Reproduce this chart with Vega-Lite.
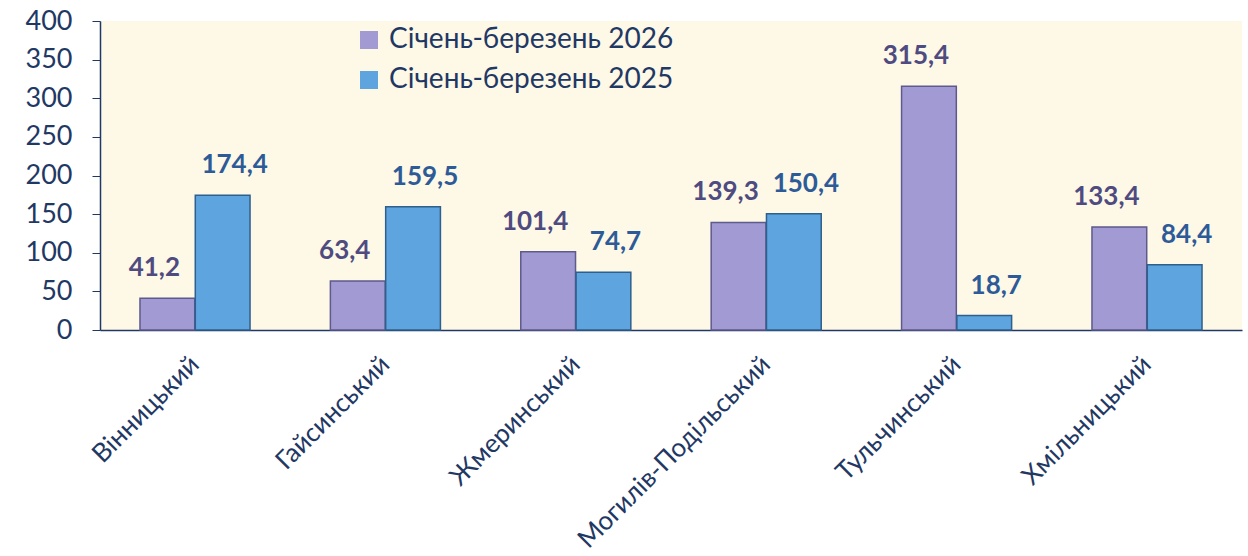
{
  "$schema": "https://vega.github.io/schema/vega-lite/v6.json",
  "autosize": {"type": "none"},
  "width": 1142,
  "height": 309,
  "padding": {"left": 100, "top": 21, "right": 6, "bottom": 226},
  "background": "#ffffff",
  "config": {
    "view": {"fill": "#fef8e7", "stroke": null},
    "font": "Lato"
  },
  "data": {
    "values": [
      {"district": "Вінницький", "series": "Січень-березень 2026", "value": 41.2, "label": "41,2"},
      {"district": "Вінницький", "series": "Січень-березень 2025", "value": 174.4, "label": "174,4"},
      {"district": "Гайсинський", "series": "Січень-березень 2026", "value": 63.4, "label": "63,4"},
      {"district": "Гайсинський", "series": "Січень-березень 2025", "value": 159.5, "label": "159,5"},
      {"district": "Жмеринський", "series": "Січень-березень 2026", "value": 101.4, "label": "101,4"},
      {"district": "Жмеринський", "series": "Січень-березень 2025", "value": 74.7, "label": "74,7"},
      {"district": "Могилів-Подільський", "series": "Січень-березень 2026", "value": 139.3, "label": "139,3"},
      {"district": "Могилів-Подільський", "series": "Січень-березень 2025", "value": 150.4, "label": "150,4"},
      {"district": "Тульчинський", "series": "Січень-березень 2026", "value": 315.4, "label": "315,4"},
      {"district": "Тульчинський", "series": "Січень-березень 2025", "value": 18.7, "label": "18,7"},
      {"district": "Хмільницький", "series": "Січень-березень 2026", "value": 133.4, "label": "133,4"},
      {"district": "Хмільницький", "series": "Січень-березень 2025", "value": 84.4, "label": "84,4"}
    ]
  },
  "encoding": {
    "x": {
      "field": "district",
      "type": "nominal",
      "sort": null,
      "scale": {"paddingInner": 0.422, "paddingOuter": 0.21},
      "axis": {
        "title": null,
        "labelAngle": -45,
        "labelFontSize": 26,
        "labelColor": "#1f3864",
        "labelPadding": 30,
        "labelBaseline": "middle",
        "labelLimit": 400,
        "ticks": false,
        "domainColor": "#1f3864",
        "domainWidth": 1.5,
        "labelFont": "Lato"
      }
    },
    "xOffset": {
      "field": "series",
      "type": "nominal",
      "sort": ["Січень-березень 2026", "Січень-березень 2025"],
      "scale": {"paddingInner": 0.01}
    },
    "y": {
      "field": "value",
      "type": "quantitative",
      "scale": {"domain": [0, 400]},
      "axis": {
        "title": null,
        "values": [0, 50, 100, 150, 200, 250, 300, 350, 400],
        "grid": false,
        "labelFontSize": 27,
        "labelColor": "#1f3864",
        "tickColor": "#1f3864",
        "tickSize": 8,
        "domainColor": "#1f3864",
        "domainWidth": 1.5,
        "labelPadding": 20,
        "labelFont": "Lato"
      }
    }
  },
  "layer": [
    {
      "mark": {"type": "bar", "strokeWidth": 1.5},
      "encoding": {
        "color": {
          "field": "series",
          "type": "nominal",
          "scale": {
            "domain": ["Січень-березень 2026", "Січень-березень 2025"],
            "range": ["#a29bd3", "#5ea4de"]
          },
          "legend": {
            "title": null,
            "orient": "none",
            "legendX": 255,
            "legendY": 5,
            "symbolType": "square",
            "symbolSize": 324,
            "symbolStrokeWidth": 0,
            "labelFontSize": 28,
            "labelLimit": 500,
            "labelColor": "#1f3864",
            "labelFont": "Lato",
            "rowPadding": 12,
            "labelOffset": 6
          }
        },
        "stroke": {
          "field": "series",
          "type": "nominal",
          "scale": {
            "domain": ["Січень-березень 2026", "Січень-березень 2025"],
            "range": ["#5d5a8c", "#2f5f8c"]
          },
          "legend": null
        }
      }
    },
    {
      "transform": [{"filter": "datum.series === 'Січень-березень 2026'"}],
      "mark": {"type": "text", "fontSize": 26, "fontWeight": "bold", "dy": -30, "dx": -13, "font": "Lato", "color": "#4e4b80"},
      "encoding": {
        "text": {"field": "label"}
      }
    },
    {
      "transform": [{"filter": "datum.series === 'Січень-березень 2025'"}],
      "mark": {"type": "text", "fontSize": 26, "fontWeight": "bold", "dy": -30, "dx": 12, "font": "Lato", "color": "#2d5b98"},
      "encoding": {
        "text": {"field": "label"}
      }
    }
  ]
}
